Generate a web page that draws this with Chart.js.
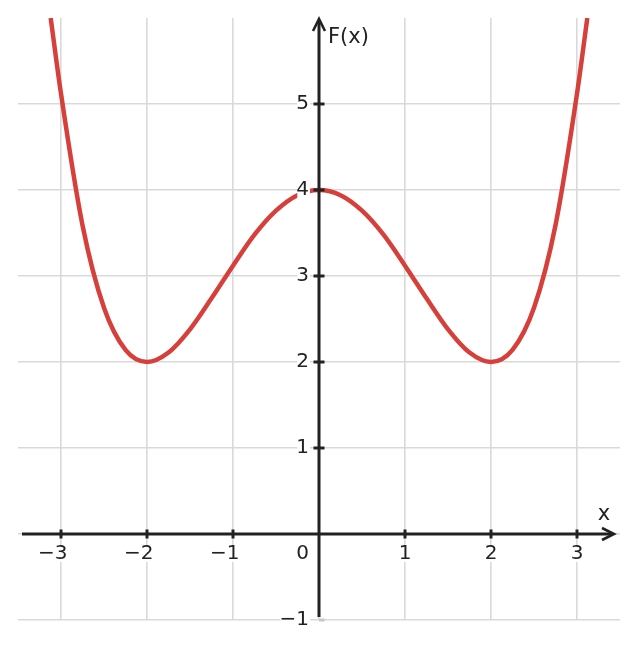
<!DOCTYPE html>
<html>
<head>
<meta charset="utf-8">
<script src="https://cdn.jsdelivr.net/npm/chart.js@4.4.1/dist/chart.umd.min.js"></script>
<style>
  html, body { margin: 0; padding: 0; background: #fff; }
  #wrap { width: 638px; height: 648px; }
</style>
</head>
<body>
<div id="wrap"><canvas id="myChart"></canvas></div>
<script>
// values
const xValues = [-3.12, -3, -2.75, -2.5, -2.25, -2, -1.75, -1.5, -1.25, -1, -0.75, -0.5, -0.25,
  0, 0.25, 0.5, 0.75, 1, 1.25, 1.5, 1.75, 2, 2.25, 2.5, 2.75, 3, 3.12];
const fValues = [6.0, 5.12, 3.59, 2.63, 2.14, 2.0, 2.11, 2.38, 2.74, 3.12, 3.48, 3.76, 3.94,
  4.0, 3.94, 3.76, 3.48, 3.12, 2.74, 2.38, 2.11, 2.0, 2.14, 2.63, 3.59, 5.12, 6.0];
const xTicks = [-3, -2, -1, 1, 2, 3];
const yTicks = [-1, 1, 2, 3, 4, 5];
const xLabel = 'x';
const yLabel = 'F(x)';

const ink = '#222222';
const gridColor = '#d9d9d9';
const tickFont = '20px "DejaVu Sans"';

function fmt(v) {
  return v < 0 ? '\u2212' + Math.abs(v) : String(v);
}

const axesPlugin = {
  id: 'axesPlugin',
  afterDatasetsDraw(chart) {
    const ctx = chart.ctx;
    const xs = chart.scales.x, ys = chart.scales.y;
    const area = chart.chartArea;
    const x0 = xs.getPixelForValue(0);
    const y0 = ys.getPixelForValue(0);
    ctx.save();
    ctx.strokeStyle = ink;
    ctx.lineWidth = 3;
    ctx.lineCap = 'butt';

    // x axis
    const xEnd = area.right - 6;
    ctx.beginPath();
    ctx.moveTo(area.left + 4, y0);
    ctx.lineTo(xEnd - 2, y0);
    ctx.stroke();
    ctx.lineWidth = 2.6;
    ctx.beginPath();
    ctx.moveTo(xEnd - 12, y0 - 6);
    ctx.lineTo(xEnd, y0);
    ctx.lineTo(xEnd - 12, y0 + 6);
    ctx.stroke();

    // y axis
    const yTop = area.top + 1;
    ctx.lineWidth = 3;
    ctx.beginPath();
    ctx.moveTo(x0, ys.getPixelForValue(-1) - 3);
    ctx.lineTo(x0, yTop + 2);
    ctx.stroke();
    ctx.lineWidth = 2.6;
    ctx.beginPath();
    ctx.moveTo(x0 - 6, yTop + 12);
    ctx.lineTo(x0, yTop);
    ctx.lineTo(x0 + 6, yTop + 12);
    ctx.stroke();

    // tick marks
    ctx.lineWidth = 3;
    xTicks.forEach(v => {
      const px = xs.getPixelForValue(v);
      ctx.beginPath();
      ctx.moveTo(px, y0 - 4.5);
      ctx.lineTo(px, y0 + 4.5);
      ctx.stroke();
    });
    yTicks.forEach(v => {
      const py = ys.getPixelForValue(v);
      ctx.strokeStyle = v === -1 ? '#c8c8c8' : ink;
      ctx.beginPath();
      ctx.moveTo(x0 - (v === -1 ? 0 : 5.5), py);
      ctx.lineTo(x0 + 5.5, py);
      ctx.stroke();
    });

    // tick labels
    ctx.font = tickFont;
    ctx.textBaseline = 'middle';
    const digitW = ctx.measureText('0').width;
    xTicks.forEach(v => {
      const px = xs.getPixelForValue(v);
      const s = fmt(v);
      const w = ctx.measureText(s).width;
      const right = px + digitW / 2;
      ctx.fillStyle = '#fff';
      ctx.fillRect(right - w, y0 + 12, w, 16);
      ctx.fillStyle = ink;
      ctx.textAlign = 'right';
      ctx.fillText(s, right, y0 + 20);
    });
    ctx.textAlign = 'right';
    yTicks.forEach(v => {
      const py = ys.getPixelForValue(v);
      const s = fmt(v);
      const w = ctx.measureText(s).width;
      ctx.fillStyle = '#fff';
      ctx.fillRect(x0 - 10 - w + 1, py - 8, w, 16);
      ctx.fillStyle = ink;
      ctx.fillText(s, x0 - 10, py);
    });
    ctx.fillText('0', x0 - 10, y0 + 20);

    // axis labels
    ctx.font = '21px "DejaVu Sans"';
    ctx.textAlign = 'left';
    ctx.fillText(yLabel, x0 + 9, area.top + 20);
    ctx.textAlign = 'center';
    ctx.fillText(xLabel, xEnd - 10, y0 - 19);
    ctx.restore();
  }
};

const ctx = document.getElementById('myChart').getContext('2d');

const myChart = new Chart(ctx, {
  type: 'line',
  data: {
    datasets: [{
      label: yLabel,
      data: xValues.map((x, i) => ({ x: x, y: fValues[i] })),
      borderColor: '#d6403b',
      borderWidth: 4.5,
      pointRadius: 0,
      fill: false,
      cubicInterpolationMode: 'monotone'
    }]
  },
  options: {
    responsive: true,
    maintainAspectRatio: false,
    animation: false,
    devicePixelRatio: 1,
    layout: { padding: { left: 18, right: 18, top: 18, bottom: 28 } },
    plugins: {
      legend: { display: false },
      tooltip: { enabled: false }
    },
    scales: {
      x: {
        type: 'linear',
        min: -3.5,
        max: 3.5,
        afterBuildTicks: scale => { scale.ticks = [-3, -2, -1, 0, 1, 2, 3].map(v => ({ value: v })); },
        ticks: { display: false },
        border: { display: false },
        grid: { color: gridColor, lineWidth: 1.6, drawTicks: false }
      },
      y: {
        type: 'linear',
        min: -1,
        max: 6,
        afterBuildTicks: scale => { scale.ticks = [-1, 0, 1, 2, 3, 4, 5].map(v => ({ value: v })); },
        ticks: { display: false },
        border: { display: false },
        grid: { color: gridColor, lineWidth: 1.6, drawTicks: false }
      }
    }
  },
  plugins: [axesPlugin]
});
</script>
</body>
</html>
